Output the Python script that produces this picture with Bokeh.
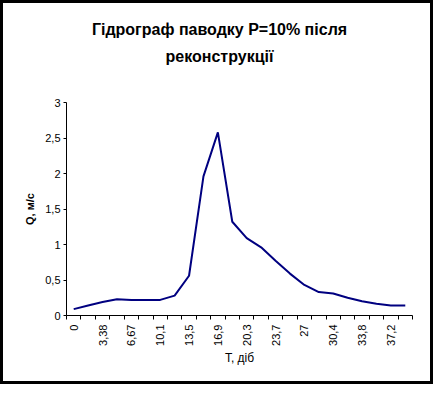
import numpy as np
from bokeh.plotting import figure
from bokeh.layouts import column
from bokeh.models import FixedTicker, CustomJSTickFormatter, Range1d, ColumnDataSource, Div
from bokeh.embed import file_html
from bokeh.resources import INLINE

# ---- data ----
t_labels = ["0", "1,69", "3,38", "5,07", "6,67", "8,45", "10,1", "11,8", "13,5", "15,2",
            "16,9", "18,6", "20,3", "22", "23,7", "25,4", "27", "28,7", "30,4", "32,1",
            "33,8", "35,5", "37,2", "38,9"]
q_values = [0.09, 0.14, 0.19, 0.23, 0.22, 0.22, 0.22, 0.28, 0.56, 1.96,
            2.58, 1.32, 1.09, 0.96, 0.77, 0.59, 0.43, 0.33, 0.31, 0.25,
            0.20, 0.165, 0.14, 0.14]
y_ticks = [0, 0.5, 1, 1.5, 2, 2.5, 3]
title_lines = ["Гідрограф паводку Р=10% після", "реконструкції"]
x_title = "T, діб"
y_title = "Q, м/с"

FONT = "Liberation Sans"
n = len(t_labels)
xpos = [i + 0.5 for i in range(n)]
src = ColumnDataSource(dict(x=xpos, q=q_values))

title_div = Div(text="<br>".join(title_lines), width=417, height=58,
                styles={"font-family": FONT, "font-size": "16px", "font-weight": "bold",
                        "color": "black", "text-align": "center", "line-height": "27px",
                        "padding-top": "8px", "padding-left": "6px", "box-sizing": "border-box",
                        "background": "white"})

p = figure(width=417, height=310, output_backend="svg", toolbar_location=None,
           x_range=Range1d(0, n), y_range=Range1d(0, 3),
           min_border_left=63, min_border_right=8, min_border_top=31, min_border_bottom=66)
p.outline_line_color = None
p.xgrid.visible = False
p.ygrid.visible = False
p.background_fill_color = "white"
p.border_fill_color = "white"

p.line("x", "q", source=src, line_color="#000080", line_width=2)

# y axis
ya = p.yaxis[0]
ya.ticker = FixedTicker(ticks=y_ticks)
ya.formatter = CustomJSTickFormatter(code="return tick.toString().replace('.', ',')")
ya.major_tick_out = 3
ya.major_tick_in = 0
ya.minor_tick_out = 0
ya.minor_tick_in = 0
ya.major_label_standoff = 3
ya.major_label_text_font = FONT
ya.major_label_text_font_size = "11px"
ya.major_label_text_color = "black"
ya.axis_line_color = "black"
ya.major_tick_line_color = "black"
ya.axis_label = y_title
ya.axis_label_text_font = FONT
ya.axis_label_text_font_size = "11px"
ya.axis_label_text_font_style = "bold"
ya.axis_label_text_color = "black"
ya.axis_label_standoff = 6

# x axis
xa = p.xaxis[0]
xa.ticker = FixedTicker(ticks=[i + 0.5 for i in range(0, n, 2)],
                        minor_ticks=list(range(0, n + 1)))
xa.formatter = CustomJSTickFormatter(args=dict(labels=t_labels),
                                     code="return labels[Math.floor(tick)]")
xa.major_tick_out = 0
xa.major_tick_in = 0
xa.minor_tick_out = 4
xa.minor_tick_in = 0
xa.minor_tick_line_color = "black"
xa.major_label_orientation = np.pi / 2
xa.major_label_standoff = 5
xa.major_label_text_font = FONT
xa.major_label_text_font_size = "11px"
xa.major_label_text_color = "black"
xa.axis_line_color = "black"
xa.axis_label = x_title
xa.axis_label_text_font = FONT
xa.axis_label_text_font_size = "12px"
xa.axis_label_text_font_style = "normal"
xa.axis_label_text_color = "black"
xa.axis_label_standoff = 2

layout = column(title_div, p, spacing=0,
                styles={"border": "3px solid black", "background": "white"})

open("out.html", "w").write(file_html(layout, INLINE))
